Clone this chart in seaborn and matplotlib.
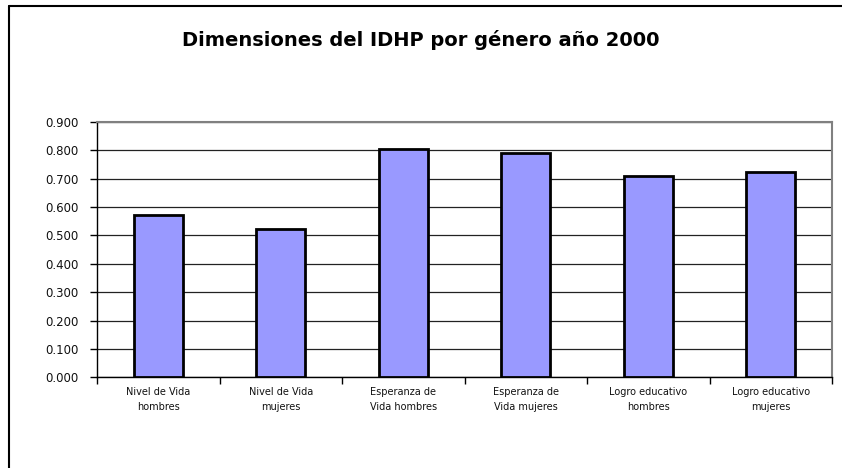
import matplotlib
matplotlib.use("Agg")
import matplotlib.pyplot as plt
import seaborn as sns
import numpy as np
from matplotlib.lines import Line2D
from matplotlib.ticker import FormatStrFormatter, MultipleLocator, FixedLocator

categories = ["Nivel de Vida\nhombres", "Nivel de Vida\nmujeres",
              "Esperanza de\nVida hombres", "Esperanza de\nVida mujeres",
              "Logro educativo\nhombres", "Logro educativo\nmujeres"]
values = [0.573, 0.523, 0.805, 0.791, 0.710, 0.725]
title = "Dimensiones del IDHP por género año 2000"

sns.set_theme(style="white")
plt.rcParams['font.family'] = ['DejaVu Sans']

fig = plt.figure(figsize=(8.42, 4.68), dpi=100)
ax = fig.add_axes([97/842, 1-377.3/468, (832-97)/842, (377.3-122)/468])

sns.barplot(x=categories, y=values, color='#9999FF', saturation=1,
            edgecolor='black', linewidth=2, width=0.4, ax=ax, zorder=3)

ax.set_xlim(-0.5, len(categories) - 0.5)
ax.set_ylim(0, 0.9)
ax.yaxis.set_major_locator(MultipleLocator(0.1))
ax.yaxis.set_major_formatter(FormatStrFormatter('%.3f'))
ax.yaxis.grid(True, color='#222222', linewidth=0.9, zorder=0)
ax.set_axisbelow(True)

for s in ['top', 'right']:
    ax.spines[s].set_color('#808080')
    ax.spines[s].set_linewidth(1.5)
for s in ['left', 'bottom']:
    ax.spines[s].set_color('black')
    ax.spines[s].set_linewidth(1.0)

ax.tick_params(axis='y', which='major', left=True, length=5, width=1,
               color='black', direction='out', pad=8, labelsize=8.5, labelcolor='#111111')
ax.tick_params(axis='x', which='major', bottom=False, length=0, pad=7,
               labelsize=7, labelcolor='#111111')
ax.xaxis.set_minor_locator(FixedLocator(np.arange(-0.5, len(categories), 1.0)))
ax.tick_params(axis='x', which='minor', bottom=True, length=5, width=1,
               color='black', direction='out')
for lab in ax.get_xticklabels():
    lab.set_linespacing(1.6)
ax.set_xlabel('')
ax.set_ylabel('')

fig.text(0.5, 1-40/468, title, ha='center', va='center',
         fontsize=14, fontweight='bold', color='black')

# outer chart frame (partially visible)
fig.add_artist(Line2D([9/842, 9/842], [0, 1-6/468], transform=fig.transFigure,
                      color='black', linewidth=1.5))
fig.add_artist(Line2D([9/842, 1], [1-6/468, 1-6/468], transform=fig.transFigure,
                      color='black', linewidth=1.5))

fig.savefig("out.png", dpi=100)
